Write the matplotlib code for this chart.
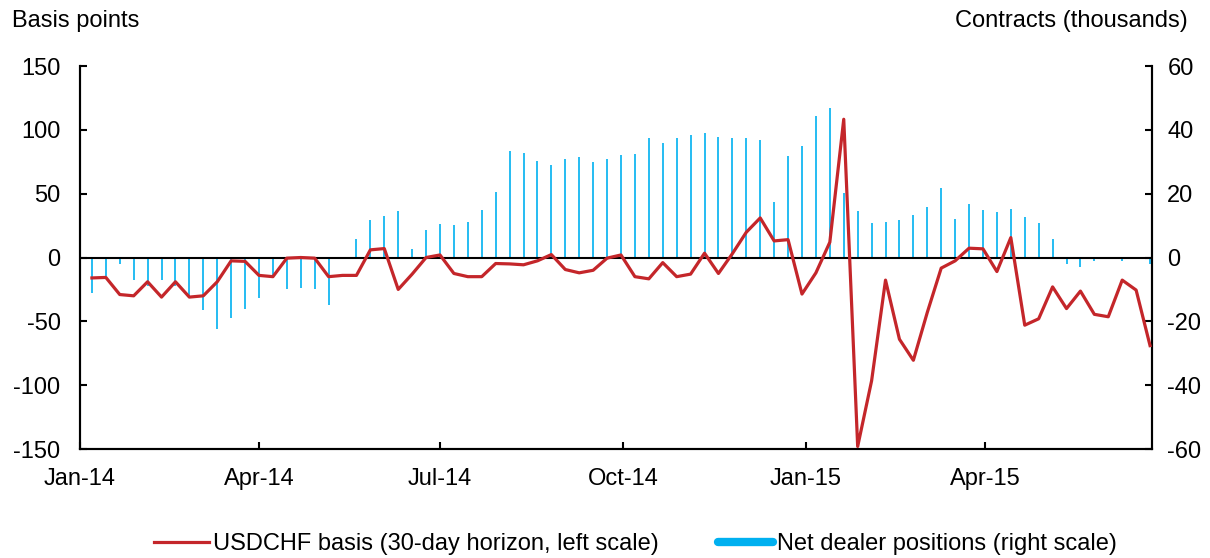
import pandas as pd
import numpy as np
import matplotlib
matplotlib.use("Agg")
import matplotlib.pyplot as plt
import matplotlib.dates as mdates
from matplotlib.lines import Line2D

plt.rcParams['font.family'] = ['Liberation Sans', 'DejaVu Sans']
plt.rcParams['axes.unicode_minus'] = False

# === Data (weekly) ===
dates = pd.date_range('2014-01-07', periods=77, freq='7D')

# USDCHF basis, 30-day horizon (basis points, left scale)
basis = [-16, -15.6, -29, -30, -19, -31, -19, -31, -30, -19,
         -2.6, -3, -14, -15, -0.5, 0, -0.5, -15, -14, -14,
         6, 7, -25, -13, 0, 2, -12.5, -15, -15, -4.7,
         -5, -5.7, -2.6, 2.3, -9.4, -12, -10, -0.5, 2, -15,
         -16.7, -4, -15, -13, 3.4, -12.5, 3, 19.8, 31, 13,
         14, -28.6, -12, 12, 108.3, -148, -96.6, -17.7, -64, -80.5,
         -43, -8.3, -2.6, 7.3, 6.8, -11, 15.6, -53, -48, -23,
         -40, -26.3, -44.5, -46.4, -17.7, -25.5, -69]

# Net dealer positions (thousands of contracts, right scale)
positions = [-11, -5.8, -1.9, -6.9, -9, -6.9, -9, -12, -16.3, -22.5,
             -19, -16, -12.7, -5.8, -9.8, -9.4, -10, -14.8, 0, 5.8,
             11.7, 13.1, 14.7, 2.8, 8.75, 10.5, 10.3, 11, 15, 20.6,
             33.4, 32.7, 30.3, 29, 31, 31.6, 30, 31, 32, 32.4,
             37.5, 36, 37.3, 38.3, 39, 37.7, 37.4, 37.4, 36.9, 17.4,
             31.8, 35, 44.2, 46.9, 20.2, 14.5, 10.8, 11.1, 11.6, 13.2,
             15.9, 21.8, 12.1, 16.7, 14.9, 14.3, 15.3, 12.7, 10.8, 5.7,
             -2.1, -3.1, -1.1, -0.4, -1, 0, -1.9]

red = '#C4262A'
blue = '#00B0F0'
fs = 17

fig = plt.figure(figsize=(12.1, 5.58), dpi=100)
ax = fig.add_axes([0.0661, 0.1953, 0.8860, 0.6864])
ax2 = ax.twinx()

# bars on right scale, line on top on left scale
ax2.vlines(dates, 0, positions, color=blue, lw=1.2)
ax.set_zorder(ax2.get_zorder() + 1)
ax.patch.set_visible(False)
ax.axhline(0, color='black', lw=1.5, zorder=2)
ax.plot(dates, basis, color=red, lw=2.3, zorder=3)

ax.set_ylim(-150, 150)
ax.set_yticks(np.arange(-150, 151, 50))
ax2.set_ylim(-60, 60)
ax2.set_yticks(np.arange(-60, 61, 20))
ax.set_xlim(pd.Timestamp('2014-01-01'), dates[-1] + pd.Timedelta(days=1))

ax.xaxis.set_major_locator(mdates.MonthLocator(bymonth=[1, 4, 7, 10]))
ax.xaxis.set_major_formatter(mdates.DateFormatter('%b-%y'))

for a in (ax, ax2):
    a.spines['top'].set_visible(False)
    for s in ('left', 'right', 'bottom'):
        a.spines[s].set_linewidth(1.5)
ax.tick_params(axis='y', direction='in', length=5, width=1.5, labelsize=fs, pad=14)
ax2.tick_params(axis='y', direction='in', length=5, width=1.5, labelsize=fs, pad=11)
ax.tick_params(axis='x', direction='in', length=5, width=1.5, labelsize=fs, pad=14)

fig.text(0.010, 0.962, 'Basis points', fontsize=fs, ha='left', va='center')
fig.text(0.982, 0.962, 'Contracts (thousands)', fontsize=fs, ha='right', va='center')

handles = [Line2D([], [], color=red, lw=2.3),
           Line2D([], [], color=blue, lw=6, solid_capstyle='round')]
labels = ['USDCHF basis (30-day horizon, left scale)', 'Net dealer positions (right scale)']
fig.legend(handles, labels, loc='center', bbox_to_anchor=(0.525, 0.025), ncol=2,
           frameon=False, fontsize=fs, handlelength=2.35, handletextpad=0.15,
           columnspacing=2.5)

fig.savefig('out.png', dpi=100)
